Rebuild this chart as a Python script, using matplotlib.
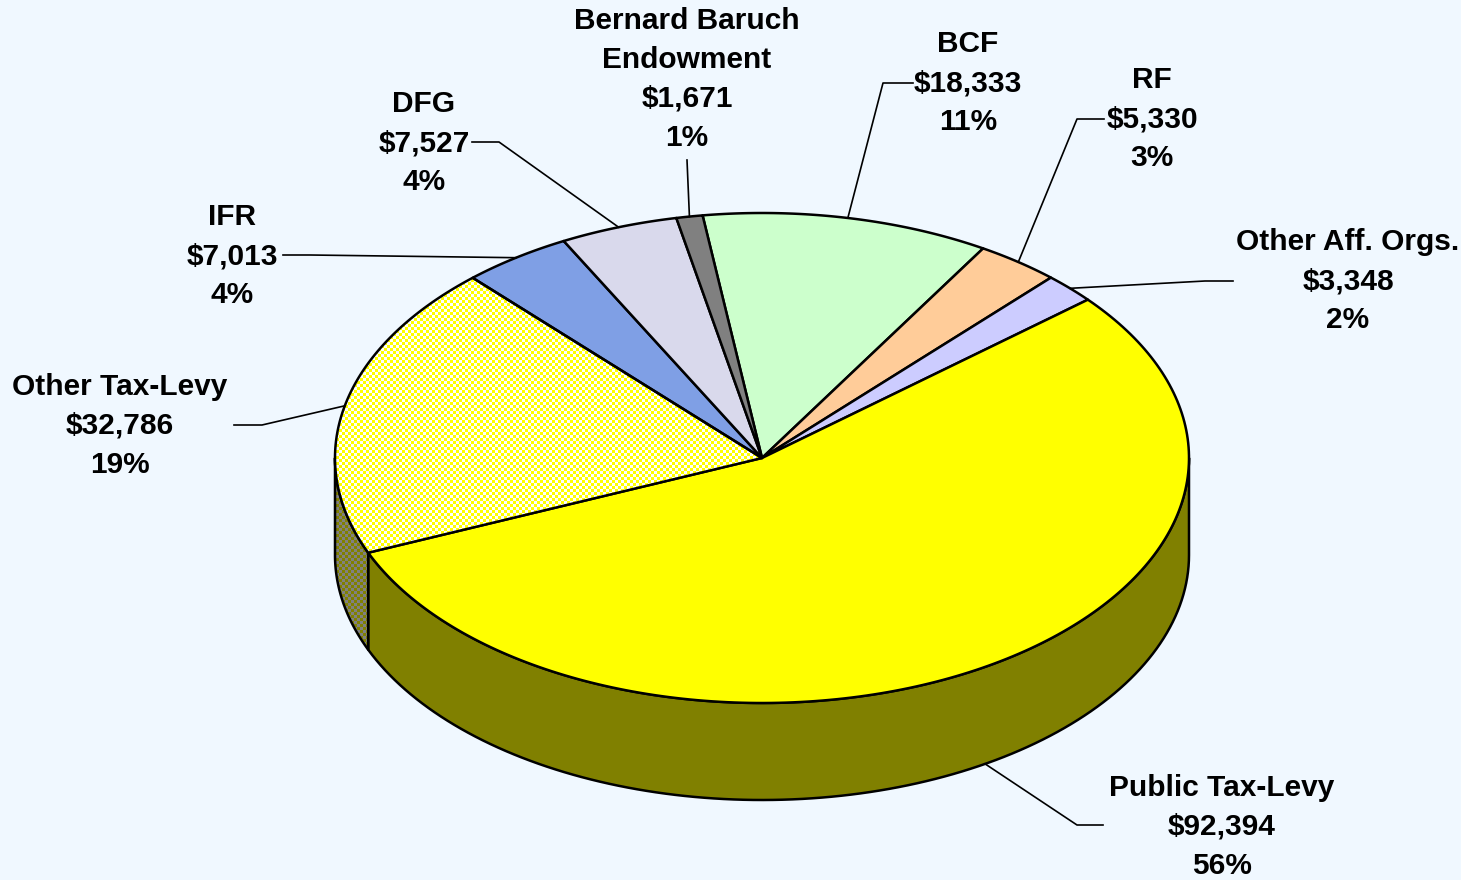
import matplotlib
matplotlib.use("Agg")
import matplotlib.pyplot as plt
from matplotlib.patches import Polygon
from matplotlib.colors import to_rgb
import numpy as np

# ── Data (clockwise from the top) ───────────────────────────────────────────
names = ["BCF", "RF", "Other Aff. Orgs.", "Public Tax-Levy",
         "Other Tax-Levy", "IFR", "DFG", "Bernard Baruch\nEndowment"]
values = [18333, 5330, 3348, 92394, 32786, 7013, 7527, 1671]
pct_labels = ["11%", "3%", "2%", "56%", "19%", "4%", "4%", "1%"]

top_colors = ["#CCFFCC", "#FFCC99", "#CCCCFF", "#FFFF00",
              "checker", "#7F9FE5", "#D9D9EC", "#808080"]
side_colors = ["#669966", "#806633", "#666680", "#808000",
               "checker_side", "#405080", "#6C6C76", "#404040"]

# label text centre (px), line start, elbow
label_pos = [(968, 83), (1152, 119), (1348, 281), (1222, 827),
             (120, 426), (232, 256), (424, 143), (687, 79)]
line_start = [(913, 83), (1104, 119), (1233, 281), (1103, 825),
              (234, 425), (283, 255), (472, 142), (687, 160)]
line_elbow = [(883, 83), (1077, 119), (1205, 281), (1077, 825),
              (262, 425), (310, 255), (499, 142), (687, 160)]

# ── Geometry ───────────────────────────────────────────────────────────────
CX, CY = 762, 458
RX, RY = 427, 245
DEPTH = 97
START = 98.0
BG = "#F0F8FF"

W, H = 1461, 880
fig = plt.figure(figsize=(W / 100, H / 100), dpi=100, facecolor=BG)
ax = fig.add_axes([0, 0, 1, 1])
ax.set_xlim(0, W)
ax.set_ylim(H, 0)
ax.axis("off")
ax.set_facecolor(BG)

total = float(sum(values))
spans = [v / total * 360 for v in values]
bounds = [START]
for s in spans:
    bounds.append(bounds[-1] - s)


def ell(theta, dy=0):
    t = np.radians(theta)
    return CX + RX * np.cos(t), CY - RY * np.sin(t) + dy


# checker images for the patterned slice
yy, xx = np.mgrid[0:H, 0:W]
mask = ((xx // 3 + yy // 3) % 2).astype(bool)


def checker_img(c1, c2):
    img = np.empty((H, W, 3))
    img[...] = to_rgb(c1)
    img[mask] = to_rgb(c2)
    return img


def fill_poly(pts, color, z):
    if color in ("checker", "checker_side"):
        if color == "checker":
            img = checker_img("#FFFF00", "#FFFFFF")
        else:
            img = checker_img("#808000", "#808080")
        im = ax.imshow(img, extent=(0, W, H, 0), interpolation="nearest", zorder=z)
        clip = Polygon(pts, closed=True, transform=ax.transData, fc="none")
        im.set_clip_path(clip)
        ax.add_patch(Polygon(pts, closed=True, fc="none", ec="black", lw=1.8,
                             joinstyle="round", zorder=z + 0.1))
    else:
        ax.add_patch(Polygon(pts, closed=True, fc=color, ec="black", lw=1.8,
                             joinstyle="round", zorder=z))


# ── Side walls (front half only, angles in [-180, 0]) ─────────────────────
for i in range(len(values)):
    a0, a1 = bounds[i + 1], bounds[i]  # a0 < a1
    for shift in (0, -360, 360):
        lo, hi = max(a0 + shift, -180), min(a1 + shift, 0)
        if hi > lo:
            th = np.linspace(lo, hi, 120)
            x, y = ell(th)
            xb, yb = ell(th[::-1], DEPTH)
            pts = np.column_stack([np.r_[x, xb], np.r_[y, yb]])
            fill_poly(pts, side_colors[i], 2)

# ── Top faces ──────────────────────────────────────────────────────────────
for i in range(len(values)):
    th = np.linspace(bounds[i], bounds[i + 1], 200)
    x, y = ell(th)
    pts = np.column_stack([np.r_[CX, x], np.r_[CY, y]])
    fill_poly(pts, top_colors[i], 4)

# ── Labels and leader lines ───────────────────────────────────────────────
for i in range(len(values)):
    mid = (bounds[i] + bounds[i + 1]) / 2
    px, py = ell(mid)
    if np.sin(np.radians(mid)) < 0:
        py += DEPTH
    sx, sy = line_start[i]
    ex, ey = line_elbow[i]
    ax.plot([sx, ex, px], [sy, ey, py], color="black", lw=1.2, zorder=6)
    txt = f"{names[i]}\n${values[i]:,}\n{pct_labels[i]}"
    ax.text(label_pos[i][0], label_pos[i][1], txt, ha="center", va="center",
            fontsize=21.5, fontweight="bold", family=["Liberation Sans", "DejaVu Sans"],
            linespacing=1.5, zorder=7)

fig.savefig("out.png", dpi=100, facecolor=BG)
